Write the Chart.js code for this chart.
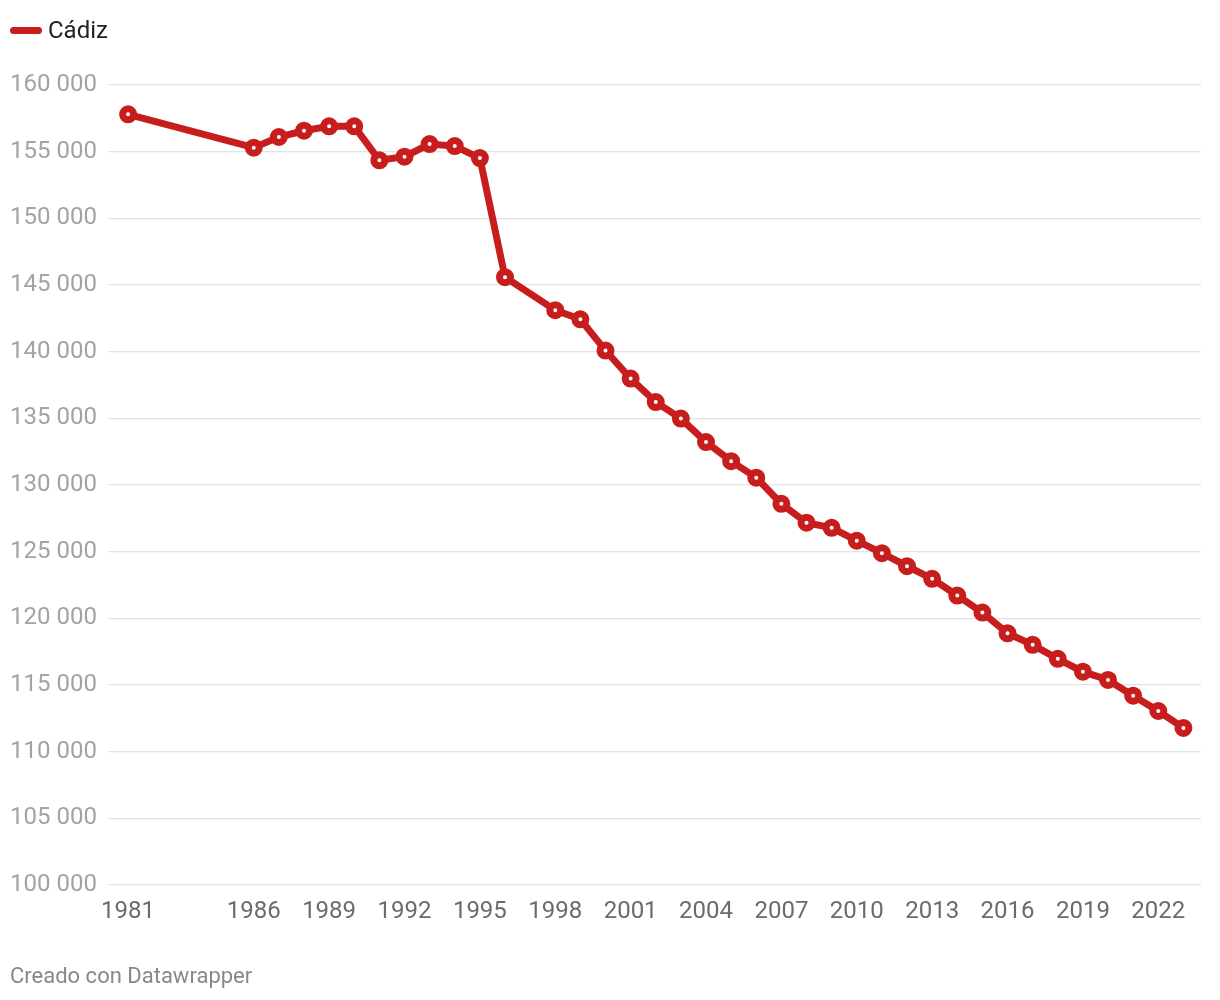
<!DOCTYPE html>
<html>
<head>
<meta charset="utf-8">
<script src="https://cdn.jsdelivr.net/npm/chart.js@4"></script>
<style>
  body { margin: 0; background: #fff; font-family: Roboto, sans-serif; }
  #wrap { position: relative; width: 1220px; height: 1000px; }
  #legend { position: absolute; left: 10px; top: 15px; display: flex; align-items: center; font-size: 24px; line-height: 30px; color: #222; }
  #legend span.sw { display: inline-block; width: 32px; height: 7px; border-radius: 4px; background: #c71e1d; margin-right: 6px; }
  #foot { position: absolute; left: 10px; top: 962px; font-size: 22px; line-height: 28px; color: #888; }
  canvas { position: absolute; left: 0; top: 0; }
</style>
</head>
<body>
<div id="wrap">
  <canvas id="myChart" width="1220" height="1000"></canvas>
  <div id="legend"><span class="sw"></span>Cádiz</div>
  <div id="foot">Creado con Datawrapper</div>
</div>
<script>
const years = [1981, 1986, 1987, 1988, 1989, 1990, 1991, 1992, 1993, 1994, 1995, 1996,
  1998, 1999, 2000, 2001, 2002, 2003, 2004, 2005, 2006, 2007, 2008, 2009, 2010,
  2011, 2012, 2013, 2014, 2015, 2016, 2017, 2018, 2019, 2020, 2021, 2022, 2023]

const population = [157800, 155300, 156100, 156570, 156900, 156900, 154350, 154620, 155570, 155420, 154520, 145590,
  143110, 142430, 140080, 137980, 136220, 134980, 133220, 131790, 130550, 128590, 127170, 126790, 125820,
  124890, 123910, 122960, 121710, 120430, 118880, 118010, 116960, 116000, 115380, 114200, 113050, 111780]

const xTicks = [1981, 1986, 1989, 1992, 1995, 1998, 2001, 2004, 2007, 2010, 2013, 2016, 2019, 2022]
const yTicks = [100000, 105000, 110000, 115000, 120000, 125000, 130000, 135000, 140000, 145000, 150000, 155000, 160000]

const red = "#c71e1d"

const ctx = document.getElementById("myChart").getContext("2d")

const data = {
  datasets: [{
    label: "Cádiz",
    data: years.map((y, i) => ({ x: y, y: population[i] })),
    borderColor: red,
    borderWidth: 7,
    pointRadius: 5.5,
    pointBorderWidth: 7,
    pointBackgroundColor: "#fff",
    pointBorderColor: red,
    pointHoverRadius: 5.5,
    tension: 0,
  }],
}

const config = {
  type: "line",
  data: data,
  options: {
    responsive: false,
    animation: false,
    layout: { padding: { left: 10, right: 19, top: 85, bottom: 73 } },
    plugins: { legend: { display: false }, tooltip: { enabled: false } },
    scales: {
      x: {
        type: "linear",
        min: 1980.2,
        max: 2023.7,
        grid: { display: false, drawTicks: false },
        border: { display: false },
        afterBuildTicks: (s) => { s.ticks = xTicks.map(v => ({ value: v })) },
        afterFit: (s) => { s.height = 42 },
        ticks: {
          autoSkip: false,
          maxRotation: 0,
          padding: 13,
          color: "#6b6b6b",
          font: { family: "Roboto", size: 24 },
          callback: (v) => String(v),
        },
      },
      y: {
        min: 100000,
        max: 160000,
        grid: { color: "#e3e3e3", lineWidth: 1.3, drawTicks: false },
        border: { display: false },
        afterBuildTicks: (s) => { s.ticks = yTicks.map(v => ({ value: v })) },
        afterFit: (s) => { s.width = 98 },
        ticks: {
          crossAlign: "far",
          padding: 10,
          color: "#a3a3a3",
          font: { family: "Roboto", size: 24 },
          callback: (v) => String(v).replace(/\B(?=(\d{3})+(?!\d))/g, " "),
        },
      },
    },
  },
}

const myChart = new Chart(ctx, config)
</script>
</body>
</html>
